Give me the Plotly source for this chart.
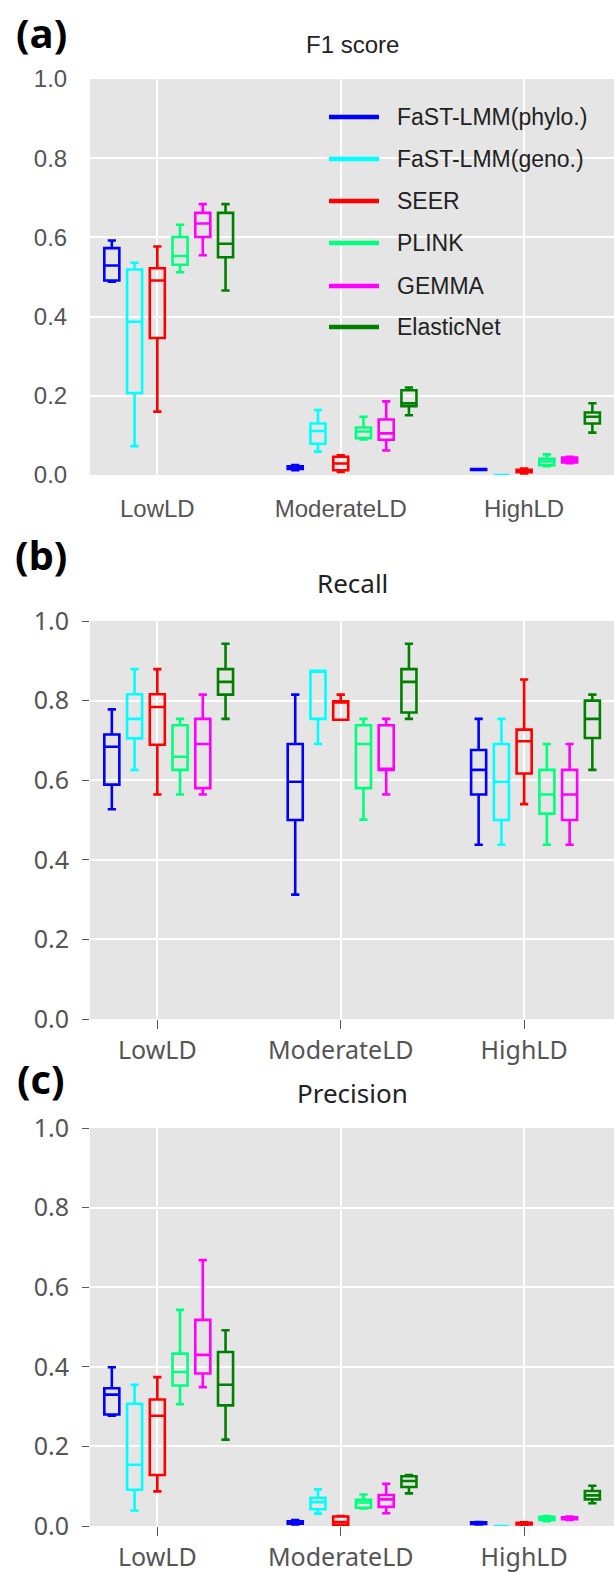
import plotly.graph_objects as go

categories = ["LowLD", "ModerateLD", "HighLD"]
methods = ["FaST-LMM(phylo.)", "FaST-LMM(geno.)", "SEER", "PLINK", "GEMMA", "ElasticNet"]
colors = ["#0000FF", "#00FFFF", "#FF0000", "#00FF7F", "#FF00FF", "#008000"]
panel_titles = ["F1 score", "Recall", "Precision"]
panel_tags = ["(a)", "(b)", "(c)"]
y_ticks = [0.0, 0.2, 0.4, 0.6, 0.8, 1.0]

# per method: values for LowLD, ModerateLD, HighLD
f1_min = [[0.488, 0.012, 0.013], [0.073, 0.059, 0.0], [0.160, 0.008, 0.004],
          [0.512, 0.090, 0.022], [0.555, 0.062, 0.030], [0.466, 0.151, 0.107]]
f1_q1 = [[0.491, 0.015, 0.013], [0.207, 0.079, 0.0], [0.346, 0.012, 0.007],
         [0.531, 0.093, 0.025], [0.601, 0.089, 0.032], [0.550, 0.174, 0.130]]
f1_med = [[0.529, 0.018, 0.014], [0.387, 0.111, 0.0], [0.491, 0.029, 0.010],
          [0.553, 0.110, 0.034], [0.635, 0.105, 0.038], [0.584, 0.181, 0.147]]
f1_q3 = [[0.573, 0.022, 0.015], [0.519, 0.130, 0.0], [0.522, 0.046, 0.013],
         [0.601, 0.120, 0.041], [0.662, 0.140, 0.044], [0.662, 0.214, 0.158]]
f1_max = [[0.592, 0.025, 0.015], [0.536, 0.164, 0.0], [0.577, 0.050, 0.016],
          [0.632, 0.147, 0.052], [0.684, 0.186, 0.046], [0.684, 0.221, 0.181]]

rec_min = [[0.527, 0.3125, 0.438], [0.626, 0.691, 0.438], [0.564, 0.752, 0.540],
           [0.564, 0.501, 0.438], [0.564, 0.564, 0.438], [0.754, 0.754, 0.626]]
rec_q1 = [[0.589, 0.500, 0.564], [0.705, 0.754, 0.500], [0.689, 0.752, 0.617],
          [0.626, 0.580, 0.516], [0.580, 0.626, 0.500], [0.815, 0.770, 0.706]]
rec_med = [[0.684, 0.596, 0.626], [0.754, 0.875, 0.596], [0.784, 0.798, 0.698],
           [0.659, 0.691, 0.564], [0.691, 0.626, 0.564], [0.847, 0.847, 0.754]]
rec_q3 = [[0.715, 0.691, 0.676], [0.816, 0.875, 0.691], [0.816, 0.798, 0.727],
          [0.738, 0.738, 0.626], [0.754, 0.738, 0.626], [0.879, 0.879, 0.800]]
rec_max = [[0.778, 0.815, 0.754], [0.879, 0.875, 0.754], [0.879, 0.815, 0.853],
           [0.754, 0.754, 0.691], [0.815, 0.754, 0.691], [0.943, 0.943, 0.815]]

prec_min = [[0.277, 0.004, 0.004], [0.039, 0.031, 0.0], [0.087, 0.002, 0.002],
            [0.306, 0.044, 0.012], [0.349, 0.032, 0.015], [0.217, 0.082, 0.057]]
prec_q1 = [[0.280, 0.006, 0.005], [0.091, 0.042, 0.0], [0.128, 0.003, 0.004],
           [0.353, 0.046, 0.015], [0.383, 0.048, 0.017], [0.303, 0.098, 0.067]]
prec_med = [[0.330, 0.009, 0.007], [0.154, 0.060, 0.0], [0.277, 0.010, 0.006],
            [0.387, 0.059, 0.019], [0.430, 0.067, 0.020], [0.355, 0.113, 0.077]]
prec_q3 = [[0.346, 0.012, 0.009], [0.307, 0.071, 0.0], [0.318, 0.024, 0.008],
           [0.433, 0.066, 0.023], [0.518, 0.078, 0.022], [0.437, 0.125, 0.088]]
prec_max = [[0.399, 0.015, 0.010], [0.355, 0.092, 0.0], [0.374, 0.025, 0.009],
            [0.543, 0.079, 0.025], [0.668, 0.106, 0.024], [0.492, 0.128, 0.101]]

panels = [
    (f1_min, f1_q1, f1_med, f1_q3, f1_max),
    (rec_min, rec_q1, rec_med, rec_q3, rec_max),
    (prec_min, prec_q1, prec_med, prec_q3, prec_max),
]

W, H = 614, 1573
PLOT_LEFT = 90
panel_px = [(79, 475), (621, 1019), (1128, 1526)]  # top, bottom in pixels
title_px = [45, 583, 1093]
tag_px = [33, 555, 1078]
GROUP_STEP = 0.124
BOX_W = 0.082

FONT_A = "Liberation Sans, Arial, sans-serif"
FONT_BC = "Noto Sans, DejaVu Sans, sans-serif"
TAG_FONT = "Open Sans, Noto Sans, sans-serif"

fig = go.Figure()

for p, stats in enumerate(panels):
    mn, q1, md, q3, mx = stats
    sfx = "" if p == 0 else str(p + 1)
    for m, name in enumerate(methods):
        xs = [c + (m - 2) * GROUP_STEP for c in range(len(categories))]
        fig.add_trace(go.Box(
            x=xs, q1=q1[m], median=md[m], q3=q3[m],
            lowerfence=mn[m], upperfence=mx[m],
            name=name, showlegend=False, boxpoints=False,
            width=BOX_W, whiskerwidth=0.55,
            line=dict(color=colors[m], width=2.6),
            fillcolor="rgba(0,0,0,0)",
            xaxis="x" + sfx, yaxis="y" + sfx,
        ))

    top, bot = panel_px[p]
    font = FONT_A if p == 0 else FONT_BC
    fsize = 24 if p == 0 else 25
    xa = dict(
        domain=[PLOT_LEFT / W, 1.0], range=[-0.367, 2.49],
        tickvals=list(range(len(categories))), ticktext=categories,
        showgrid=True, gridcolor="white", gridwidth=2, zeroline=False,
        showline=False, tickfont=dict(family=font, size=fsize, color="#555555"),
        ticks="outside", ticklen=10 if p == 0 else 9,
        tickcolor="rgba(0,0,0,0)" if p == 0 else "#555555",
        ticklabelstandoff=2 if p == 0 else 0,
        automargin=False, anchor="y" + sfx, fixedrange=True,
    )
    ya = dict(
        domain=[1 - bot / H, 1 - top / H], range=[0, 1],
        tickvals=y_ticks, tickformat=".1f",
        showgrid=True, gridcolor="white", gridwidth=2, zeroline=False,
        showline=False, tickfont=dict(family=font, size=fsize, color="#555555"),
        ticks="outside", ticklen=7,
        tickcolor="#555555" if p > 0 else "rgba(0,0,0,0)",
        ticklabelstandoff=10 if p == 0 else 8,
        automargin=False, anchor="x" + sfx, fixedrange=True,
    )
    fig.layout["xaxis" + sfx] = xa
    fig.layout["yaxis" + sfx] = ya

    fig.add_annotation(text=panel_titles[p], xref="paper", yref="paper",
                       x=(PLOT_LEFT + W) / 2 / W, y=1 - title_px[p] / H,
                       showarrow=False, xanchor="center", yanchor="middle",
                       font=dict(family=font, size=24 if p == 0 else 26, color="#222222"))

for p, tag in enumerate(panel_tags):
    fig.add_annotation(text="<b>" + tag + "</b>", xref="paper", yref="paper",
                       x=41 / W, y=1 - tag_px[p] / H, showarrow=False,
                       xanchor="center", yanchor="middle",
                       font=dict(family=TAG_FONT, size=40, color="black"))

# legend drawn inside panel (a)
leg_rows = [117, 159, 201, 243, 286, 327]
for m, name in enumerate(methods):
    yy = 1 - leg_rows[m] / H
    fig.add_shape(type="line", xref="paper", yref="paper",
                  x0=329 / W, x1=379 / W, y0=yy, y1=yy,
                  line=dict(color=colors[m], width=4.5))
    fig.add_annotation(text=name, xref="paper", yref="paper",
                       x=395 / W, y=yy, showarrow=False,
                       xanchor="left", yanchor="middle",
                       font=dict(family=FONT_A, size=23, color="#222222"))

fig.update_layout(
    width=W, height=H, margin=dict(l=0, r=0, t=0, b=0, pad=0),
    paper_bgcolor="white", plot_bgcolor="#E5E5E5",
    showlegend=False,
)

fig.write_html("out.html", config={"displayModeBar": False},
               post_script="document.body.style.margin='0';document.body.style.overflow='hidden';")
